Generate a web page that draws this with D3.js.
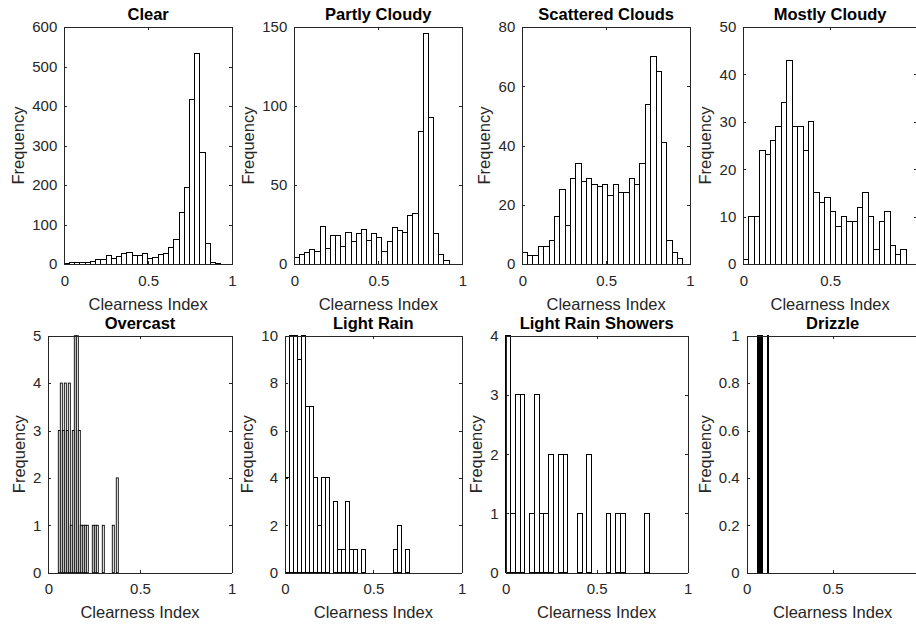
<!DOCTYPE html>
<html>
<head>
<meta charset="utf-8">
<script src="https://cdn.jsdelivr.net/npm/d3@7"></script>
<style>
  body { margin: 0; background: #fff; }
  text { font-family: "Liberation Sans", Arial, Helvetica, sans-serif; }
</style>
</head>
<body>
<script>
// weather categories, one histogram each
const titles = ['Clear', 'Partly Cloudy', 'Scattered Clouds', 'Mostly Cloudy',
                'Overcast', 'Light Rain', 'Light Rain Showers', 'Drizzle'];

// bar counts, left to right
const clearCounts = [2, 5, 3, 3, 5, 6, 12, 12, 22, 14, 18, 27, 30, 21, 21, 27, 14, 16, 24, 26, 42, 63, 130, 194, 417, 532, 282, 53, 3, 1];
const partlyCounts = [4, 6, 7, 9, 8, 24, 10, 18, 18, 11, 20, 14, 19, 22, 15, 19, 17, 8, 14, 23, 21, 20, 31, 32, 84, 146, 93, 19, 6, 2];
const scatteredCounts = [4, 3, 3, 6, 6, 8, 16, 25, 13, 29, 34, 28, 29, 27, 26, 27, 23, 27, 24, 24, 29, 27, 34, 54, 70, 65, 41, 8, 4, 2];
const mostlyCounts = [1, 10, 10, 24, 23, 26, 29, 34, 43, 29, 29, 24, 30, 15, 13, 14, 11, 8, 10, 9, 9, 12, 15, 10, 3, 9, 11, 4, 2, 3];
const overcastCounts = [3, 4, 3, 4, 3, 4, 1, 3, 5, 5, 3, 1, 1, 1, 1, 0, 0, 1, 1, 1, 0, 0, 1, 0, 0, 0, 0, 1, 0, 2];
const lightRainCounts = [4, 10, 10, 9, 10, 7, 7, 4, 2, 4, 4, 0, 3, 1, 1, 3, 1, 1, 0, 1, 0, 0, 0, 0, 0, 0, 0, 1, 2, 0, 1];
const showersCounts = [4, 1, 3, 3, 0, 1, 3, 1, 1, 2, 0, 2, 2, 0, 0, 1, 0, 2, 0, 0, 0, 1, 0, 1, 1, 0, 0, 0, 0, 1];
const drizzleCounts = [1, 1, 0, 1, 1, 1, 1, 1, 1, 1, 1, 1, 1, 0, 0, 0, 0, 0, 0, 0, 0, 0, 0, 0, 0, 0, 0, 0, 0, 1];

const allCounts = [clearCounts, partlyCounts, scatteredCounts, mostlyCounts,
                   overcastCounts, lightRainCounts, showersCounts, drizzleCounts];

// where the first bin starts and how wide the bins are (clearness index units)
const binStart = [0, 0, 0, 0, 0.0546, 0.004, 0, 0.064];
const binWidth = [0.0311, 0.0307, 0.0319, 0.0313, 0.0109, 0.02264, 0.02625, 0.002];

// axis ticks (the '1' label of the right column falls off the picture)
const xTicks = [0, 0.5, 1];
const xTickLabels = [
  [0, 0.5, 1], [0, 0.5, 1], [0, 0.5, 1], [0, 0.5],
  [0, 0.5, 1], [0, 0.5, 1], [0, 0.5, 1], [0, 0.5]
];
const yTicks = [
  [0, 100, 200, 300, 400, 500, 600],
  [0, 50, 100, 150],
  [0, 20, 40, 60, 80],
  [0, 10, 20, 30, 40, 50],
  [0, 1, 2, 3, 4, 5],
  [0, 2, 4, 6, 8, 10],
  [0, 1, 2, 3, 4],
  [0, 0.2, 0.4, 0.6, 0.8, 1]
];
const xLabel = 'Clearness Index';
const yLabel = 'Frequency';

// axes boxes in pixels
const boxes = [
  { left: 64.3, right: 232, top: 27, bottom: 264 },
  { left: 294.3, right: 462.3, top: 27, bottom: 264 },
  { left: 522.3, right: 690, top: 27, bottom: 264 },
  { left: 743.3, right: 917, top: 27, bottom: 264 },
  { left: 48.3, right: 231.7, top: 335.7, bottom: 572.7 },
  { left: 285, right: 461.7, top: 335.7, bottom: 572.7 },
  { left: 505.7, right: 687.7, top: 335.7, bottom: 572.7 },
  { left: 746.7, right: 918.7, top: 335.7, bottom: 572.7 }
];

const axisColor = '#262626';
const tickLen = 3;

const svg = d3.select('body').append('svg')
  .attr('width', 916)
  .attr('height', 626);

titles.forEach(function(title, i) {
  const b = boxes[i];
  const counts = allCounts[i];
  const ticksY = yTicks[i];
  const labelsX = xTickLabels[i];

  const x = d3.scaleLinear().domain([0, 1]).range([b.left, b.right]);
  const y = d3.scaleLinear().domain([0, ticksY[ticksY.length - 1]]).range([b.bottom, b.top]);

  const g = svg.append('g');

  const bins = counts.map(function(c, j) {
    return { x0: binStart[i] + j * binWidth[i], x1: binStart[i] + (j + 1) * binWidth[i], c: c };
  });

  // very thin bins look grey in the original, so let them antialias
  const binPx = x(binWidth[i]) - x(0);

  // bars
  g.append('g')
    .attr('shape-rendering', binPx < 3 && binPx > 1 ? 'geometricPrecision' : 'crispEdges')
    .selectAll('rect')
    .data(bins)
    .join('rect')
    .attr('x', d => x(d.x0))
    .attr('width', d => x(d.x1) - x(d.x0))
    .attr('y', d => y(d.c))
    .attr('height', d => y(0) - y(d.c))
    .attr('fill', '#fff')
    .attr('stroke', '#000')
    .attr('stroke-width', binPx < 3 && binPx > 1 ? 0.9 : 1);

  // bottom axis
  const gx = g.append('g')
    .attr('transform', 'translate(0,' + b.bottom + ')')
    .call(d3.axisBottom(x).tickValues(xTicks)
      .tickFormat(d => labelsX.indexOf(d) >= 0 ? String(d) : '')
      .tickSizeInner(-tickLen).tickSizeOuter(0).tickPadding(11));

  // left axis
  const gy = g.append('g')
    .attr('transform', 'translate(' + b.left + ',0)')
    .call(d3.axisLeft(y).tickValues(ticksY).tickFormat(d3.format('')).tickSizeInner(-tickLen).tickSizeOuter(0).tickPadding(7));

  // top and right mirrors (no labels)
  g.append('g')
    .attr('transform', 'translate(0,' + b.top + ')')
    .call(d3.axisTop(x).tickValues(xTicks).tickFormat('').tickSizeInner(-tickLen).tickSizeOuter(0));
  g.append('g')
    .attr('transform', 'translate(' + b.right + ',0)')
    .call(d3.axisRight(y).tickValues(ticksY).tickFormat('').tickSizeInner(-tickLen).tickSizeOuter(0));

  g.selectAll('.domain, .tick line')
    .attr('stroke', axisColor)
    .attr('shape-rendering', 'crispEdges');
  g.selectAll('.tick text')
    .attr('fill', axisColor)
    .style('font-size', '15px');

  // widest y tick label, to place the y label like matlab does
  let maxW = 0;
  gy.selectAll('.tick text').each(function() {
    maxW = Math.max(maxW, this.getComputedTextLength());
  });

  // title
  g.append('text')
    .attr('x', (b.left + b.right) / 2)
    .attr('y', b.top - 6.7)
    .attr('text-anchor', 'middle')
    .style('font-size', '16.5px')
    .style('font-weight', 'bold')
    .attr('fill', '#000')
    .text(title);

  // x label
  g.append('text')
    .attr('x', (b.left + b.right) / 2)
    .attr('y', b.bottom + 45.5)
    .attr('text-anchor', 'middle')
    .style('font-size', '16.5px')
    .attr('fill', axisColor)
    .text(xLabel);

  // y label
  const lx = b.left - maxW - 7 - 14;
  const ly = (b.top + b.bottom) / 2;
  g.append('text')
    .attr('transform', 'translate(' + lx + ',' + ly + ') rotate(-90)')
    .attr('text-anchor', 'middle')
    .attr('dy', '0.35em')
    .style('font-size', '16.5px')
    .attr('fill', axisColor)
    .text(yLabel);
});
</script>
</body>
</html>
